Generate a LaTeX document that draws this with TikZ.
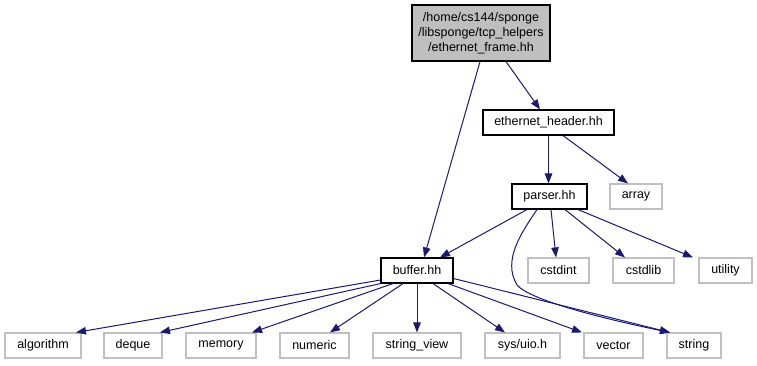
\documentclass[tikz,border=0pt]{standalone}
\usepackage{fontspec}
\setmainfont{Liberation Sans}
\usetikzlibrary{arrows.meta}
\definecolor{edgeblue}{HTML}{191970}
\definecolor{sysgray}{HTML}{C0C0C0}
\definecolor{rootfill}{HTML}{BFBFBF}
\begin{document}
\begin{tikzpicture}[x=1pt,y=-1pt,
  box/.style={draw=black, line width=1.1pt, fill=white, minimum height=25pt,
    inner sep=0pt, font=\fontsize{12.5}{15}\selectfont},
  sysbox/.style={box, draw=sysgray},
  rootbox/.style={box, fill=rootfill, align=center},
  edge/.style={draw=edgeblue, line width=1pt,
    -{Triangle[length=10pt,width=7.5pt]}}]
\useasboundingbox (0,0) rectangle (757,365);
\fill[white] (0,0) rectangle (757,365);

% header files of the project
\node[rootbox, minimum width=138pt, minimum height=56pt] (main) at (481,33)
  {/home/cs144/sponge\\/libsponge/tcp\_helpers\\/ethernet\_frame.hh};
\node[box, minimum width=131pt] (eth) at (548.5,122.5) {ethernet\_header.hh};
\node[box, minimum width=75pt] (parser) at (549.5,196.5) {parser.hh};
\node[box, minimum width=72pt] (buffer) at (417,270.5) {buffer.hh};

% system headers
\node[sysbox, minimum width=52pt] (array) at (636,196.5) {array};
\node[sysbox, minimum width=61pt] (cstdint) at (558.5,270.5) {cstdint};
\node[sysbox, minimum width=61pt] (cstdlib) at (643.5,270.5) {cstdlib};
\node[sysbox, minimum width=53pt] (utility) at (725.5,270.5) {utility};
\node[sysbox, minimum width=76pt] (algorithm) at (43,345.5) {algorithm};
\node[sysbox, minimum width=58pt] (deque) at (133,345.5) {deque};
\node[sysbox, minimum width=70pt] (memory) at (221,345.5) {memory};
\node[sysbox, minimum width=69pt] (numeric) at (314.5,345.5) {numeric};
\node[sysbox, minimum width=88pt] (stringview) at (417,345.5) {string\_view};
\node[sysbox, minimum width=75pt] (sysuio) at (522.5,345.5) {sys/uio.h};
\node[sysbox, minimum width=59pt] (vector) at (613.5,345.5) {vector};
\node[sysbox, minimum width=54pt] (string) at (694,345.5) {string};

% include relations
\draw[edge] ([xshift=-1pt]main.south) -- ([xshift=7pt]buffer.north);
\draw[edge] ([xshift=25pt]main.south) -- ([xshift=-8.5pt]eth.north);
\draw[edge] (eth.south) -- (eth.south |- parser.north);
\draw[edge] ([xshift=14.5pt]eth.south) -- ([xshift=-8pt]array.north);

\draw[edge] ([xshift=-22.5pt]parser.south) -- ([xshift=23pt]buffer.north);
\draw[edge] ([xshift=-12.5pt]parser.south)
  .. controls (522,232) and (502,260) .. (517,285)
  .. controls (530,300) and (600,318) .. ([xshift=-24pt]string.north);
\draw[edge] ([xshift=1.5pt]parser.south) -- ([xshift=-2.5pt]cstdint.north);
\draw[edge] ([xshift=15.5pt]parser.south) -- ([xshift=-18.5pt]cstdlib.north);
\draw[edge] ([xshift=28.5pt]parser.south) -- ([xshift=-32.5pt]utility.north);

\draw[edge] ([yshift=-9.5pt]buffer.west) -- ([xshift=33pt]algorithm.north);
\draw[edge] (buffer.south west) -- ([xshift=27pt]deque.north);
\draw[edge] ([xshift=-24pt]buffer.south) -- ([xshift=31pt]memory.north);
\draw[edge] ([xshift=-14pt]buffer.south) -- ([xshift=15.5pt]numeric.north);
\draw[edge] (buffer.south) -- (stringview.north);
\draw[edge] ([xshift=16pt]buffer.south) -- ([xshift=-17.5pt]sysuio.north);
\draw[edge] ([xshift=31pt]buffer.south) -- ([xshift=-31.5pt]vector.north);
\draw[edge] ([yshift=-8pt]buffer.east) -- ([xshift=-24pt]string.north);
\end{tikzpicture}
\end{document}
